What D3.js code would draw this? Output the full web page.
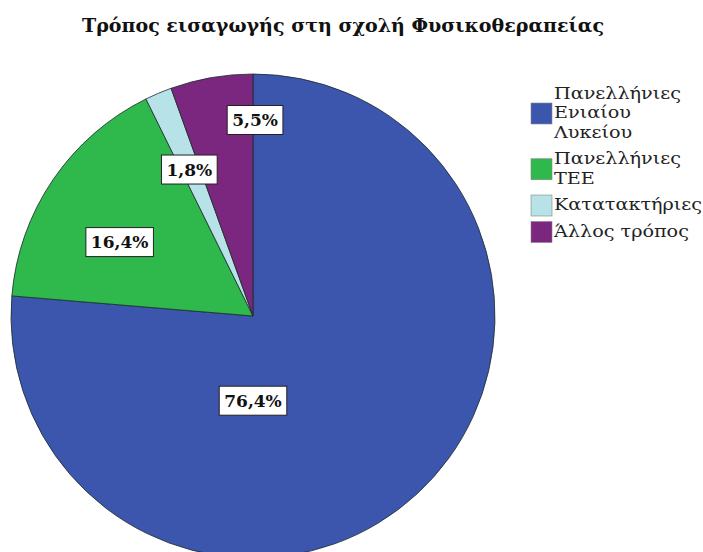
<!DOCTYPE html>
<html>
<head>
<meta charset="utf-8">
<script src="https://cdn.jsdelivr.net/npm/d3@7"></script>
<style>
  html, body { margin: 0; padding: 0; background: #fff; }
  svg { display: block; }
</style>
</head>
<body>
<script>
// ---- data ----
const title = "Τρόπος εισαγωγής στη σχολή Φυσικοθεραπείας";
const categories = ["Πανελλήνιες Ενιαίου Λυκείου", "Πανελλήνιες ΤΕΕ", "Κατατακτήριες", "Άλλος τρόπος"];
const legendLines = [["Πανελλήνιες", "Ενιαίου", "Λυκείου"], ["Πανελλήνιες", "TEE"], ["Κατατακτήριες"], ["Άλλος τρόπος"]];
const values = [76.4, 16.4, 1.8, 5.5];
const valueLabels = ["76,4%", "16,4%", "1,8%", "5,5%"];
const colors = ["#3d56ad", "#2fb84c", "#b6e2e8", "#7b267f"];

// ---- layout (not data) ----
const W = 703, H = 552;
const cx = 253, cy = 316, R = 242;
const serif = "'DejaVu Serif', serif";
// label placement: angle in degrees clockwise from 12 o'clock, radius as fraction of R
const labelLayout = [{a: 180, r: 0.35}, {a: 299, r: 0.63}, {a: 336.5, r: 0.66}, {a: 0.6, r: 0.81}];

const svg = d3.select("body").append("svg").attr("width", W).attr("height", H);

// title
svg.append("text")
  .attr("x", 343).attr("y", 32)
  .attr("text-anchor", "middle")
  .attr("font-family", serif)
  .attr("font-weight", "bold")
  .attr("font-size", 18)
  .attr("textLength", 522)
  .attr("lengthAdjust", "spacingAndGlyphs")
  .attr("fill", "#111")
  .text(title);

const pie = d3.pie().sort(null).value(d => d)(values);
const arc = d3.arc().innerRadius(0).outerRadius(R);

const g = svg.append("g").attr("transform", `translate(${cx},${cy})`);
g.selectAll("path.slice").data(pie).join("path")
  .attr("class", "slice")
  .attr("d", arc)
  .attr("fill", (d, i) => colors[i])
  .attr("stroke", "#1c2b2a")
  .attr("stroke-width", 1)
  .attr("stroke-opacity", 0.8);

// labels
const lab = g.selectAll("g.lab").data(pie).join("g").attr("class", "lab")
  .attr("transform", (d, i) => {
    const L = labelLayout[i];
    const ang = L.a * Math.PI / 180;
    return `translate(${Math.sin(ang) * L.r * R},${-Math.cos(ang) * L.r * R})`;
  });
lab.append("rect");
lab.append("text")
  .attr("text-anchor", "middle")
  .attr("dominant-baseline", "central")
  .attr("font-family", serif)
  .attr("font-weight", "bold")
  .attr("font-size", 17)
  .attr("fill", "#111")
  .text((d, i) => valueLabels[i]);
lab.each(function() {
  const t = d3.select(this).select("text").node().getBBox();
  d3.select(this).select("rect")
    .attr("x", t.x - 5).attr("y", -14.5)
    .attr("width", t.width + 10).attr("height", 29)
    .attr("fill", "#fff").attr("stroke", "#222").attr("stroke-width", 1);
});

// legend
const lx = 531, sw = 21;
let y = 93;
const lineH = 19.5;
const leg = svg.append("g");
const probe = leg.append("text").attr("font-family", serif).attr("font-size", 16).text("Κατατακτήριες");
const k = 148 / probe.node().getComputedTextLength();
probe.remove();
legendLines.forEach((lines, i) => {
  const n = lines.length;
  const midY = y + (n - 1) * lineH / 2;
  leg.append("rect")
    .attr("x", lx).attr("y", midY - sw / 2 + 1)
    .attr("width", sw).attr("height", sw)
    .attr("fill", colors[i]).attr("stroke", "#888").attr("stroke-width", 0.6);
  lines.forEach((ln, j) => {
    const t = leg.append("text")
      .attr("x", lx + sw + 2).attr("y", y + j * lineH)
      .attr("dominant-baseline", "central")
      .attr("font-family", serif)
      .attr("font-size", 16)
      .attr("fill", "#222")
      .text(ln);
    const w = t.node().getComputedTextLength();
    t.attr("textLength", w * k).attr("lengthAdjust", "spacingAndGlyphs");
  });
  y += n * lineH + 7;
});
</script>
</body>
</html>
